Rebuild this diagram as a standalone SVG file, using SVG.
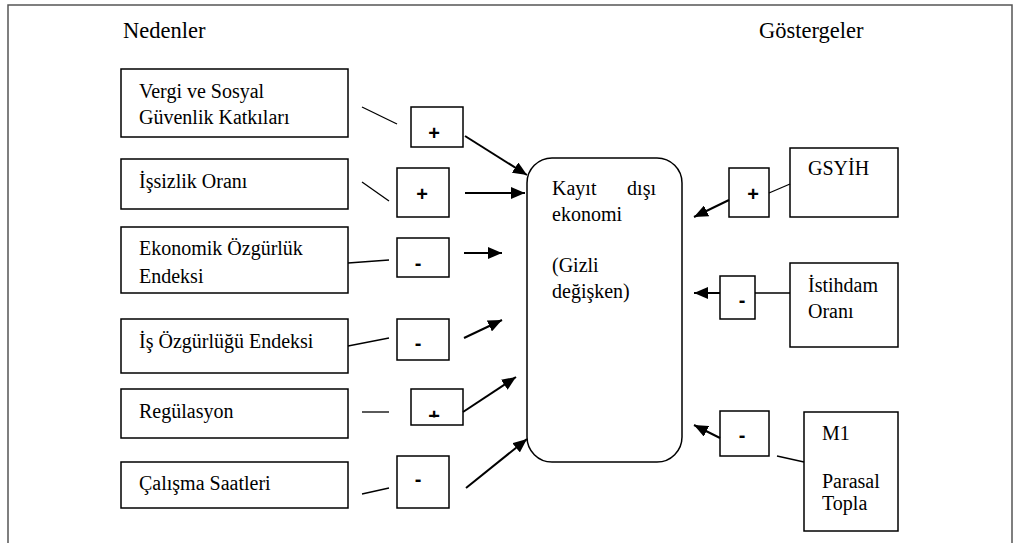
<svg xmlns="http://www.w3.org/2000/svg" width="1013" height="543" viewBox="0 0 1013 543">
<style>
.t{font-family:"Liberation Serif","Times New Roman",serif;font-size:20px;fill:#000}
.h{font-family:"Liberation Serif","Times New Roman",serif;font-size:22.5px;fill:#000}
.s{font-family:"Liberation Sans",Arial,sans-serif;font-size:20px;font-weight:bold;fill:#000;text-anchor:middle}
.box{fill:#fff;stroke:#000;stroke-width:1.5}
.ln{stroke:#000;stroke-width:1.3;fill:none}
.ar{stroke:#000;stroke-width:2;fill:none;marker-end:url(#ah)}
</style>
<defs>
<marker id="ah" markerUnits="userSpaceOnUse" markerWidth="14" markerHeight="12" viewBox="0 0 14 12" refX="14" refY="6" orient="auto">
<path d="M0,0 L14,6 L0,12 Z" fill="#000"/>
</marker>
<clipPath id="c5"><rect x="411" y="389" width="52" height="28.5"/></clipPath>
</defs>
<rect width="1013" height="543" fill="#fff"/>
<path d="M8,543 V5 H1012 V543" fill="none" stroke="#555" stroke-width="1.5"/>
<text class="h" x="123" y="38">Nedenler</text>
<text class="h" x="759" y="38">Göstergeler</text>

<g id="n-vergi"><rect class="box" x="121" y="69" width="227" height="68"/><text class="t" x="139" y="98">Vergi ve Sosyal</text><text class="t" x="139" y="124">Güvenlik Katkıları</text></g>
<g id="n-issizlik"><rect class="box" x="121" y="159" width="227" height="50"/><text class="t" x="139" y="188">İşsizlik Oranı</text></g>
<g id="n-ekonomik"><rect class="box" x="121" y="227" width="227" height="66"/><text class="t" x="139" y="255">Ekonomik Özgürlük</text><text class="t" x="139" y="283">Endeksi</text></g>
<g id="n-is"><rect class="box" x="121" y="319" width="227" height="54"/><text class="t" x="139" y="348">İş Özgürlüğü Endeksi</text></g>
<g id="n-reg"><rect class="box" x="121" y="389" width="227" height="49"/><text class="t" x="139" y="418">Regülasyon</text></g>
<g id="n-calisma"><rect class="box" x="121" y="462" width="227" height="46"/><text class="t" x="139" y="490">Çalışma Saatleri</text></g>

<g id="s1"><rect class="box" x="411" y="107" width="52" height="40"/><text class="s" x="434" y="139.5">+</text></g>
<g id="s2"><rect class="box" x="397" y="168" width="52" height="49"/><text class="s" x="422" y="200.5">+</text></g>
<g id="s3"><rect class="box" x="397" y="238" width="52" height="39"/><text class="s" x="418" y="269.5">-</text></g>
<g id="s4"><rect class="box" x="397" y="319" width="52" height="41"/><text class="s" x="418" y="350">-</text></g>
<g id="s5"><rect class="box" x="411" y="389" width="52" height="36"/><text class="s" x="434" y="423" clip-path="url(#c5)">+</text></g>
<g id="s6"><rect class="box" x="397" y="456" width="52" height="52"/><text class="s" x="418" y="486">-</text></g>

<g id="latent"><rect class="box" x="527" y="158" width="155" height="304" rx="25" ry="25"/>
<text class="t" x="552" y="195">Kayıt</text><text class="t" x="656" y="195" text-anchor="end">dışı</text>
<text class="t" x="552" y="221">ekonomi</text>
<text class="t" x="552" y="272">(Gizli</text>
<text class="t" x="552" y="298">değişken)</text></g>

<g id="n-gsyih"><rect class="box" x="790" y="148" width="108" height="69"/><text class="t" x="808" y="175">GSYİH</text></g>
<g id="n-istihdam"><rect class="box" x="790" y="263" width="108" height="84"/><text class="t" x="808" y="292">İstihdam</text><text class="t" x="808" y="318">Oranı</text></g>
<g id="n-m1"><rect class="box" x="804" y="412" width="94" height="119"/><text class="t" x="822" y="440">M1</text><text class="t" x="822" y="488">Parasal</text><text class="t" x="822" y="510">Topla</text></g>

<g id="s7"><rect class="box" x="729" y="168" width="40" height="49"/><text class="s" x="753" y="201">+</text></g>
<g id="s8"><rect class="box" x="720" y="276" width="35" height="43"/><text class="s" x="742" y="307">-</text></g>
<g id="s9"><rect class="box" x="720" y="411" width="49" height="45"/><text class="s" x="742" y="442">-</text></g>

<g id="connectors">
<line class="ln" x1="362" y1="107" x2="397" y2="124"/>
<line class="ln" x1="362" y1="182" x2="389" y2="201"/>
<line class="ln" x1="348" y1="263" x2="389" y2="260"/>
<line class="ln" x1="348" y1="346" x2="389" y2="338"/>
<line class="ln" x1="362" y1="412" x2="389" y2="412"/>
<line class="ln" x1="362" y1="494" x2="389" y2="488"/>
<line class="ar" x1="465" y1="136" x2="527" y2="175"/>
<line class="ar" x1="465" y1="193" x2="525" y2="193"/>
<line class="ar" x1="464" y1="253" x2="502" y2="253"/>
<line class="ar" x1="464" y1="338" x2="502" y2="320"/>
<line class="ar" x1="463" y1="412" x2="516" y2="377"/>
<line class="ar" x1="466" y1="488" x2="527" y2="439"/>
<line class="ln" x1="790" y1="184" x2="769" y2="193"/>
<line class="ar" x1="729" y1="200" x2="694" y2="217"/>
<line class="ln" x1="755" y1="293" x2="790" y2="293"/>
<line class="ar" x1="720" y1="293" x2="694" y2="293"/>
<line class="ln" x1="777" y1="456" x2="804" y2="462"/>
<line class="ar" x1="720" y1="438" x2="694" y2="425"/>
</g>
</svg>
